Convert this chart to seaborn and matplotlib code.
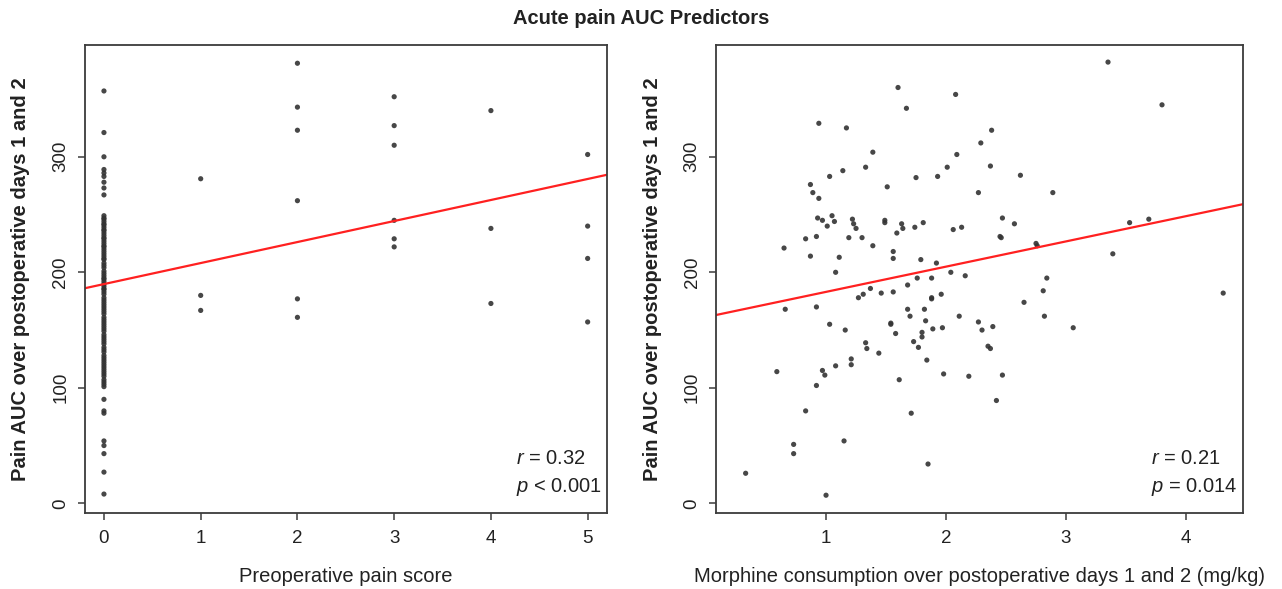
import matplotlib
matplotlib.use("Agg")
import matplotlib.pyplot as plt
import pandas as pd
import seaborn as sns

# ---------------- data ----------------
TITLE = "Acute pain AUC Predictors"
Y_LABEL = "Pain AUC over postoperative days 1 and 2"
LEFT_X_LABEL = "Preoperative pain score"
RIGHT_X_LABEL = "Morphine consumption over postoperative days 1 and 2 (mg/kg)"

pain_score_levels = [0, 1, 2, 3, 4, 5]
pain_score_0_auc = [
    357, 321, 300, 289, 286, 283, 278, 273, 267,
    249, 247, 246, 244, 242, 241, 239, 237, 236, 234, 232, 230, 229, 227, 225,
    223, 222, 220, 218, 216, 214, 212, 211, 208, 206, 204,
    201, 199, 197, 195, 194, 192, 190, 188, 186, 185, 183, 181, 178, 176, 174,
    172, 170, 168, 166, 164,
    161, 159, 157, 155, 153, 151, 149, 146, 144, 142, 140, 138, 135, 133, 131,
    128, 126, 124, 122, 120, 118, 116, 114, 112, 110, 107, 105, 103, 101,
    90, 80, 78, 54, 50, 43, 27, 8,
]
pain_score_1_auc = [281, 180, 167]
pain_score_2_auc = [381, 343, 323, 262, 177, 161]
pain_score_3_auc = [352, 327, 310, 245, 229, 222]
pain_score_4_auc = [340, 238, 173]
pain_score_5_auc = [302, 240, 212, 157]

morphine_mgkg = [
    1.60, 2.08, 1.67, 0.94, 1.17, 2.38, 2.29, 1.39, 2.09, 2.37, 1.33, 1.14, 2.01,
    1.03, 1.75, 1.93, 0.87, 1.51, 0.89, 2.27, 0.94, 0.93, 0.97, 1.05, 1.07, 1.01,
    1.22, 1.23, 1.25, 1.49, 1.49, 1.63, 1.64, 1.59, 1.74, 1.81, 2.06, 2.13, 0.83,
    0.92, 0.65, 1.19, 1.30, 1.39, 1.56, 1.56, 0.87, 1.11, 1.79, 1.92, 1.08, 2.04,
    2.16, 1.76, 1.88,
    0.66, 0.92, 1.27, 1.31, 1.37, 1.46, 1.56, 1.68, 1.88, 1.88, 1.96, 1.03, 1.16,
    1.54, 1.54, 1.58, 1.68, 1.70, 1.82, 1.83, 1.89, 1.97, 1.80, 1.80, 1.73, 1.77,
    1.33, 1.34, 1.44, 1.84, 1.21, 1.21, 1.08, 0.97, 0.99, 0.92, 0.59, 1.61, 1.98,
    2.11, 2.19, 2.27, 2.30, 0.83, 1.71, 0.73, 0.73, 1.15, 1.85, 0.33, 1.00,
    3.35, 3.80, 2.62, 2.89, 2.47, 2.57, 2.45, 2.46, 2.75, 2.76, 3.53, 3.69, 3.39,
    2.84, 2.81, 2.65, 2.82, 2.39, 3.06, 4.31, 2.35, 2.37, 2.47, 2.42,
]
morphine_auc = [
    360, 354, 342, 329, 325, 323, 312, 304, 302, 292, 291, 288, 291,
    283, 282, 283, 276, 274, 269, 269, 264, 247, 245, 249, 244, 240,
    246, 242, 238, 245, 243, 242, 238, 234, 239, 243, 237, 239, 229,
    231, 221, 230, 230, 223, 218, 212, 214, 213, 211, 208, 200, 200,
    197, 195, 195,
    168, 170, 178, 181, 186, 182, 183, 189, 178, 177, 181, 155, 150,
    156, 155, 147, 168, 162, 168, 158, 151, 152, 148, 144, 140, 135,
    139, 134, 130, 124, 125, 120, 119, 115, 111, 102, 114, 107, 112,
    162, 110, 157, 150, 80, 78, 51, 43, 54, 34, 26, 7,
    382, 345, 284, 269, 247, 242, 231, 230, 225, 223, 243, 246, 216,
    195, 184, 174, 162, 153, 152, 182, 136, 134, 111, 89,
]

left_fit_intercept, left_fit_slope = 189.8, 18.2
right_fit_intercept, right_fit_slope = 161.2, 21.85
left_r, left_p = "0.32", "< 0.001"
right_r, right_p = "0.21", "= 0.014"

left_xticks = [0, 1, 2, 3, 4, 5]
right_xticks = [1, 2, 3, 4]
y_ticks = [0, 100, 200, 300]

# ---------------- build tables ----------------
left_groups = [pain_score_0_auc, pain_score_1_auc, pain_score_2_auc,
               pain_score_3_auc, pain_score_4_auc, pain_score_5_auc]
left_df = pd.DataFrame({
    "score": [lvl for lvl, g in zip(pain_score_levels, left_groups) for _ in g],
    "auc": [v for g in left_groups for v in g],
})
right_df = pd.DataFrame({"morphine": morphine_mgkg, "auc": morphine_auc})

# ---------------- style ----------------
sns.set_style("white")
plt.rcParams["font.family"] = ["Liberation Sans", "DejaVu Sans"]
plt.rcParams["mathtext.fontset"] = "custom"
plt.rcParams["mathtext.rm"] = "Liberation Sans"
plt.rcParams["mathtext.it"] = "Liberation Sans:italic"

TXT = "#222222"
FRAME = "#3c3c3c"
DOT = "#333333"

W, H = 1282, 589
fig = plt.figure(figsize=(W / 100, H / 100), dpi=100)
ax_l = fig.add_axes([84.6 / W, (H - 513) / H, 522.4 / W, 468 / H])
ax_r = fig.add_axes([716 / W, (H - 513) / H, 527 / W, 468 / H])

sns.scatterplot(data=left_df, x="score", y="auc", ax=ax_l, s=14,
                color=DOT, edgecolor="none", alpha=0.9)
sns.scatterplot(data=right_df, x="morphine", y="auc", ax=ax_r, s=14,
                color=DOT, edgecolor="none", alpha=0.9)

ax_l.axline((0, left_fit_intercept), slope=left_fit_slope, color="#ff2020", lw=1.6)
ax_r.axline((0, right_fit_intercept), slope=right_fit_slope, color="#ff2020", lw=1.6)

ax_l.set_xlim(-0.2, 5.2)
ax_r.set_xlim(0.083, 4.475)
for ax in (ax_l, ax_r):
    ax.set_ylim(-8.4, 396.8)
    ax.set_yticks(y_ticks)
    ax.set_ylabel(Y_LABEL, fontsize=14.5, fontweight="bold", color=TXT, labelpad=16)
    for sp in ax.spines.values():
        sp.set_visible(True)
        sp.set_color(FRAME)
        sp.set_linewidth(1.3)
    ax.tick_params(axis="both", direction="out", length=5, width=1.1, color=FRAME,
                   labelsize=13.5, labelcolor=TXT, pad=6, left=True, bottom=True)
    ax.tick_params(axis="x", pad=7.5)
    plt.setp(ax.get_yticklabels(), rotation=90, va="center")

ax_l.set_xticks(left_xticks)
ax_r.set_xticks(right_xticks)
ax_l.set_xlabel(LEFT_X_LABEL, fontsize=14.5, color=TXT, labelpad=14)
ax_r.set_xlabel(RIGHT_X_LABEL, fontsize=14.5, color=TXT, labelpad=14)

for ax, r, p in ((ax_l, left_r, left_p), (ax_r, right_r, right_p)):
    ax.text(0.825, 0.1175, rf"$r$ = {r}", transform=ax.transAxes, fontsize=14.5,
            color=TXT, ha="left", va="center")
    ax.text(0.825, 0.0556, rf"$p$ {p}", transform=ax.transAxes, fontsize=14.5,
            color=TXT, ha="left", va="center")

fig.text(641 / W, 1 - 18 / H, TITLE, fontsize=14.5, fontweight="bold",
         color=TXT, ha="center", va="center")

fig.savefig("out.png", dpi=100)
